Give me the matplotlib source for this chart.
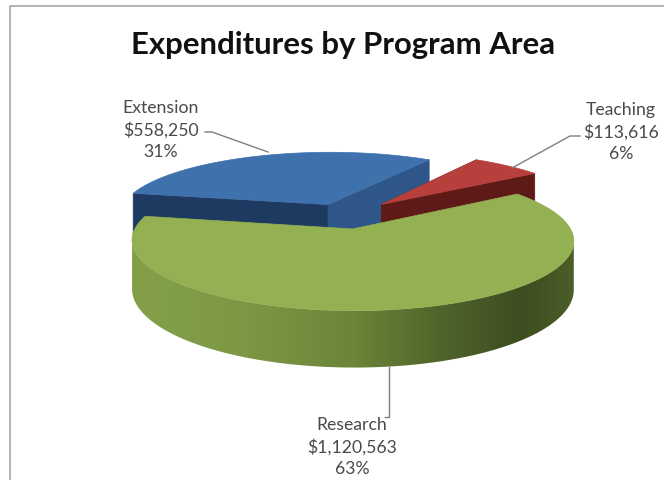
import numpy as np
import matplotlib
matplotlib.use("Agg")
import matplotlib.pyplot as plt
from matplotlib.colors import LinearSegmentedColormap
from matplotlib.patches import Polygon

title = "Expenditures by Program Area"
programs = ["Extension", "Teaching", "Research"]
amounts = [558250, 113616, 1120563]

# the pie, in pixels of the 664x481 picture
cx, cy = 344, 217
rad_x, rad_y = 211, 64
persp = 0.16
depth = 46
explode = {"Extension": 0.2, "Teaching": 0.26, "Research": 0.2}
start = 56 - 360 * (amounts[0] + amounts[1]) / sum(amounts)  # degrees clockwise from north

top_colors = {"Extension": "#3f72ad", "Teaching": "#b8403c", "Research": "#93b052"}
side_colors = {"Extension": ("#1f3a60", "#2f5688"), "Teaching": ("#5e1a16", "#5e1a16")}
wall = LinearSegmentedColormap.from_list("wall", [
    (0, "#83a049"), (0.25, "#7c9844"), (0.5, "#6b8539"),
    (0.7, "#4f642b"), (0.88, "#3d4d20"), (1, "#4b5e28")])


def project(u, v, z=0):
    # v is positive away from the viewer, far points shrink
    s = 1 / (1 + persp * v)
    return cx + rad_x * u * s, cy - rad_y * v * s + z * depth * s


def arc(a0, a1, off_u, off_v, z=0, n=300):
    t = np.radians(np.linspace(a0, a1, n))
    return project(np.sin(t) + off_u, np.cos(t) + off_v, z)


fig = plt.figure(figsize=(6.64, 4.81), dpi=100)
ax = fig.add_axes([0, 0, 1, 1])
ax.axis("off")

# chart frame
ax.plot([9.5, 9.5, 664], [481, 6.5, 6.5], color="#a6a6a6", lw=1.2)

ax.text(343, 45, title, ha="center", va="center", fontsize=22.4, fontweight="bold",
        family="Lato", color="#111111")

# slices, back ones first
angle = start
for name, value in zip(programs, amounts):
    span = 360 * value / sum(amounts)
    mid = np.radians(angle + span / 2)
    ou, ov = explode[name] * np.sin(mid), explode[name] * np.cos(mid)
    a0, a1 = angle, angle + span
    apex = project(ou, ov)
    apex_low = project(ou, ov, 1)
    rim_x, rim_y = arc(a0, a1, ou, ov)

    if name == "Research":
        # outer wall with the light falling from the left, only the part facing the viewer
        low_x, low_y = arc(a0, a1, ou, ov, 1)
        i0, i1 = np.argmax(rim_x), np.argmin(rim_x) + 1
        xs = np.r_[rim_x[i0:i1], low_x[i0:i1][::-1]]
        ys = np.r_[rim_y[i0:i1], low_y[i0:i1][::-1]]
        outline = Polygon(np.c_[xs, ys], closed=True, fc="none", ec="none")
        ax.add_patch(outline)
        img = ax.imshow(np.linspace(0, 1, 256)[None, :], cmap=wall, aspect="auto",
                        extent=[xs.min(), xs.max(), ys.max(), ys.min()], zorder=2)
        img.set_clip_path(outline)
    else:
        dark, light = side_colors[name]
        first_low = arc(a0, a0, ou, ov, 1, n=1)
        last_low = arc(a1, a1, ou, ov, 1, n=1)
        ax.fill([apex[0], rim_x[0], first_low[0][0], apex_low[0]],
                [apex[1], rim_y[0], first_low[1][0], apex_low[1]], color=dark, lw=0.5, zorder=2)
        ax.fill([apex[0], rim_x[-1], last_low[0][0], apex_low[0]],
                [apex[1], rim_y[-1], last_low[1][0], apex_low[1]], color=light, lw=0.5, zorder=2)

    ax.fill(np.r_[apex[0], rim_x], np.r_[apex[1], rim_y], color=top_colors[name], lw=0.5, zorder=2)
    angle += span

# leader lines
leader = "#7f7f7f"
ax.plot([205, 212, 268], [133, 133, 153], color=leader, lw=1, zorder=3)
ax.plot([580, 570, 512], [137, 137, 169], color=leader, lw=1, zorder=3)
ax.plot([385, 389, 389], [418, 418, 368], color=leader, lw=1, zorder=3)

# data labels
label_pos = {"Extension": (161, 130), "Teaching": (621, 132), "Research": (352, 447)}
for name, value in zip(programs, amounts):
    pct = round(100 * value / sum(amounts))
    ax.text(*label_pos[name], f"{name}\n${value:,}\n{pct}%", ha="center", va="center",
            fontsize=12.7, family="Lato", color="#4a4a4a", linespacing=1.42, zorder=4)

ax.set_xlim(0, 664)
ax.set_ylim(481, 0)
fig.savefig("out.png", dpi=100)
